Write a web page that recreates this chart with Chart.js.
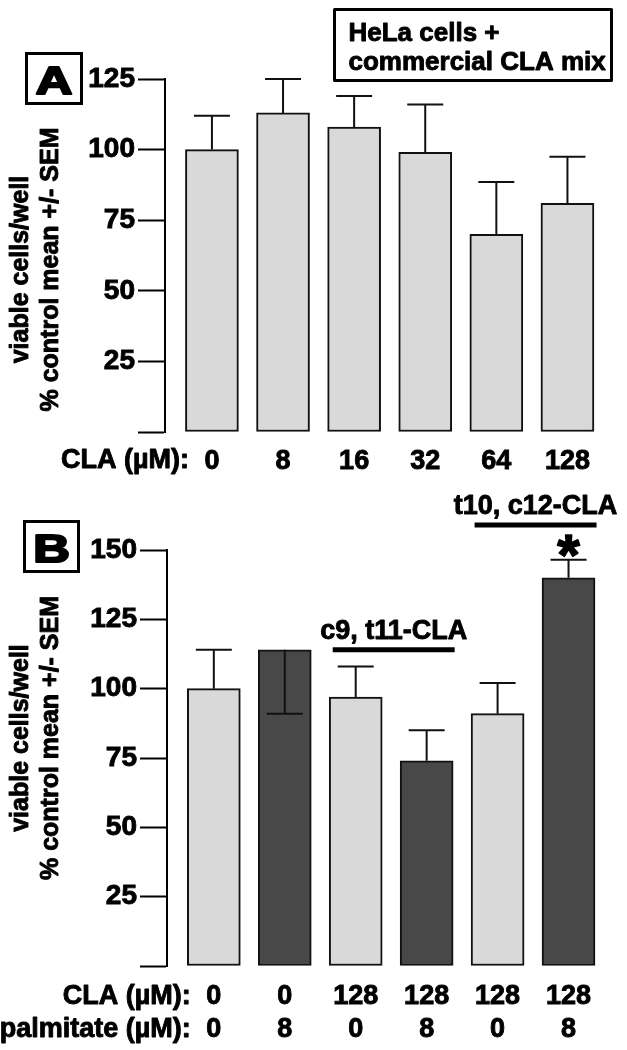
<!DOCTYPE html>
<html lang="en">
<head>
<meta charset="UTF-8">
<title>HeLa cells + CLA</title>
<script src="https://cdn.jsdelivr.net/npm/chart.js"></script>
<style>
  body { margin: 0; background: #fff; }
  .panel { position: absolute; left: 0; width: 627px; }
  #panelA { top: 0; height: 480px; }
  #panelB { top: 480px; height: 570px; }
</style>
</head>
<body>
<div class="panel" id="panelA"><canvas id="chartA"></canvas></div>
<div class="panel" id="panelB"><canvas id="chartB"></canvas></div>

<script>
// panel A - commercial CLA mix
var claDosesA = ['0', '8', '16', '32', '64', '128'];
var viableA = [100, 113, 108, 99, 70, 81];
var semA = [12, 12, 11, 17, 18.5, 16.5];

// panel B - single isomers with / without palmitate
var claDosesB = ['0', '0', '128', '128', '128', '128'];
var palmitateB = ['0', '8', '0', '8', '0', '8'];
var viableB = [100, 114, 97, 74, 91, 140];
var semB = [14, -23, 11, 11, 11, 6.5];   // negative: error bar drawn downwards
var isomerGroups = [
  { label: 'c9, t11-CLA', from: 2, to: 3, level: 114 },
  { label: 't10, c12-CLA', from: 4, to: 5, level: 159 }
];
var significantB = [false, false, false, false, false, true];

var yTicksA = [0, 25, 50, 75, 100, 125];
var yTicksB = [0, 25, 50, 75, 100, 125, 150];
var yTitle = ['viable cells/well', '% control mean +/- SEM'];

var FAMILY = '"Liberation Sans", Arial, Helvetica, sans-serif';
var LIGHT = '#d9d9d9', DARK = '#484848', INK = '#111';

Chart.defaults.font.family = FAMILY;
Chart.defaults.font.weight = 'bold';
Chart.defaults.color = '#000';

// filled + thin stroke, to get the heavy look of the original lettering
function heavyText(ctx, text, x, y, w) {
  ctx.lineWidth = w || 0.9;
  ctx.lineJoin = 'round';
  ctx.fillText(text, x, y);
  ctx.strokeText(text, x, y);
}

function errorBars(values, sem) {
  return {
    id: 'errorBars',
    afterDatasetsDraw: function (chart) {
      var ctx = chart.ctx, xs = chart.scales.x, ys = chart.scales.y;
      ctx.save();
      ctx.strokeStyle = INK;
      ctx.lineWidth = 2;
      values.forEach(function (v, i) {
        var x = xs.getPixelForValue(i);
        var y0 = ys.getPixelForValue(v);
        var y1 = ys.getPixelForValue(v + sem[i]);
        ctx.beginPath();
        ctx.moveTo(x, y0); ctx.lineTo(x, y1);
        ctx.moveTo(x - 18, y1); ctx.lineTo(x + 18, y1);
        ctx.stroke();
      });
      ctx.restore();
    }
  };
}

function decor(p) {
  return {
    id: 'decor',
    afterDraw: function (chart) {
      var ctx = chart.ctx, xs = chart.scales.x, ys = chart.scales.y, area = chart.chartArea;
      ctx.save();
      ctx.fillStyle = '#000';
      ctx.strokeStyle = '#000';

      // boxed panel letter
      var b = p.letterBox;
      ctx.lineWidth = 3;
      ctx.strokeRect(b.x, b.y, b.w, b.h);
      ctx.save();
      ctx.translate(b.x + b.w / 2, b.y + b.h - 10);
      ctx.scale(1.3, 1);
      ctx.font = 'bold 39px ' + FAMILY;
      ctx.textAlign = 'center';
      ctx.textBaseline = 'alphabetic';
      heavyText(ctx, p.letter, 0, 0, 2.2);
      ctx.restore();

      // two-line y title
      ctx.font = 'bold 25px ' + FAMILY;
      ctx.textAlign = 'center';
      ctx.textBaseline = 'middle';
      var cy = (area.top + area.bottom) / 2 + p.titleShift;
      yTitle.forEach(function (line, k) {
        ctx.save();
        ctx.translate(21 + 30 * k, cy);
        ctx.rotate(-Math.PI / 2);
        heavyText(ctx, line, 0, 0);
        ctx.restore();
      });

      // row names left of the x tick labels
      ctx.font = 'bold 27px ' + FAMILY;
      ctx.textAlign = 'right';
      var rx = xs.getPixelForValue(0) - 23;
      p.rowLabels.forEach(function (t, k) {
        heavyText(ctx, t, rx, area.bottom + p.rowOffset + 33 * k);
      });

      // info box
      if (p.infoBox) {
        var ib = p.infoBox;
        ctx.lineWidth = 3;
        ctx.strokeRect(ib.x, ib.y, ib.w, ib.h);
        ctx.font = 'bold 26px ' + FAMILY;
        ctx.textAlign = 'left';
        ctx.textBaseline = 'alphabetic';
        ib.lines.forEach(function (t, k) {
          heavyText(ctx, t, ib.x + 14, ib.y + 31 + 29 * k);
        });
      }

      // isomer brackets
      (p.groups || []).forEach(function (g) {
        var x0 = xs.getPixelForValue(g.from) - 23;
        var x1 = xs.getPixelForValue(g.to) + 28;
        var y = ys.getPixelForValue(g.level);
        ctx.lineWidth = 5;
        ctx.beginPath();
        ctx.moveTo(x0, y); ctx.lineTo(x1, y);
        ctx.stroke();
        ctx.font = 'bold 27px ' + FAMILY;
        ctx.textAlign = 'center';
        ctx.textBaseline = 'middle';
        heavyText(ctx, g.label, (x0 + x1) / 2, y - 18);
      });

      // significance stars
      (p.stars || []).forEach(function (s, i) {
        if (!s) return;
        var x = xs.getPixelForValue(i);
        var yc = ys.getPixelForValue(p.values[i] + p.sem[i]) - 15;
        ctx.font = 'bold 58px ' + FAMILY;
        ctx.textAlign = 'center';
        ctx.textBaseline = 'alphabetic';
        heavyText(ctx, '*', x, yc + 30, 1.5);
      });
      ctx.restore();
    }
  };
}

function makePanel(canvasId, p) {
  var points = p.values.map(function (v, i) { return { x: i, y: v }; });
  return new Chart(document.getElementById(canvasId), {
    type: 'bar',
    data: {
      datasets: [{
        data: points,
        backgroundColor: p.fills,
        borderColor: INK,
        borderWidth: 2,
        borderSkipped: false,
        barThickness: 53,
        clip: false
      }]
    },
    options: {
      responsive: true,
      maintainAspectRatio: false,
      animation: false,
      layout: { padding: { top: p.top, right: p.right, left: 0, bottom: 0 } },
      plugins: { legend: { display: false }, tooltip: { enabled: false } },
      scales: {
        x: {
          type: 'linear',
          offset: false,
          min: -0.66,
          max: 5.5,
          grid: { display: false, drawTicks: false },
          border: { display: false },
          afterBuildTicks: function (s) {
            s.ticks = p.labels.map(function (l, i) { return { value: i }; });
          },
          afterFit: function (s) { s.height = p.xHeight; },
          ticks: {
            autoSkip: false,
            maxRotation: 0,
            padding: p.tickPad,
            color: '#000',
            textStrokeColor: '#000',
            textStrokeWidth: 0.9,
            font: { size: 27, weight: 'bold', lineHeight: 1.22 },
            callback: function (v) { return p.labels[v]; }
          }
        },
        y: {
          min: 0,
          max: p.yMax,
          afterBuildTicks: function (s) {
            s.ticks = p.yTicks.map(function (v) { return { value: v }; });
          },
          afterFit: function (s) { s.width = p.axisX; },
          grid: { drawOnChartArea: false, drawTicks: true, tickLength: 27, tickWidth: 2, color: '#000' },
          border: { display: true, color: '#000', width: 2 },
          ticks: {
            padding: 3,
            color: '#000',
            textStrokeColor: '#000',
            textStrokeWidth: 0.9,
            font: { size: 28, weight: 'bold' },
            callback: function (v) { return v === 0 ? '' : v; }
          }
        }
      }
    },
    plugins: [errorBars(p.values, p.sem), decor(p)]
  });
}

makePanel('chartA', {
  values: viableA,
  sem: semA,
  labels: claDosesA,
  fills: claDosesA.map(function () { return LIGHT; }),
  yMax: 125,
  yTicks: yTicksA,
  top: 79, right: 24, xHeight: 48, axisX: 165, tickPad: 13,
  letter: 'A',
  letterBox: { x: 26.5, y: 53.5, w: 55, h: 50 },
  titleShift: 14,
  rowLabels: ['CLA (\u00b5M):'],
  rowOffset: 29,
  infoBox: { x: 334.5, y: 9.5, w: 277, h: 71, lines: ['HeLa cells +', 'commercial CLA mix'] }
});

makePanel('chartB', {
  values: viableB,
  sem: semB,
  labels: claDosesB.map(function (c, i) { return [c, palmitateB[i]]; }),
  fills: palmitateB.map(function (p) { return p === '0' ? LIGHT : DARK; }),
  yMax: 150,
  yTicks: yTicksB,
  top: 70, right: 23, xHeight: 84, axisX: 167, tickPad: 14,
  letter: 'B',
  letterBox: { x: 24.5, y: 41.5, w: 54, h: 50 },
  titleShift: -20,
  rowLabels: ['CLA (\u00b5M):', 'palmitate (\u00b5M):'],
  rowOffset: 31,
  groups: isomerGroups,
  stars: significantB
});
</script>
</body>
</html>
